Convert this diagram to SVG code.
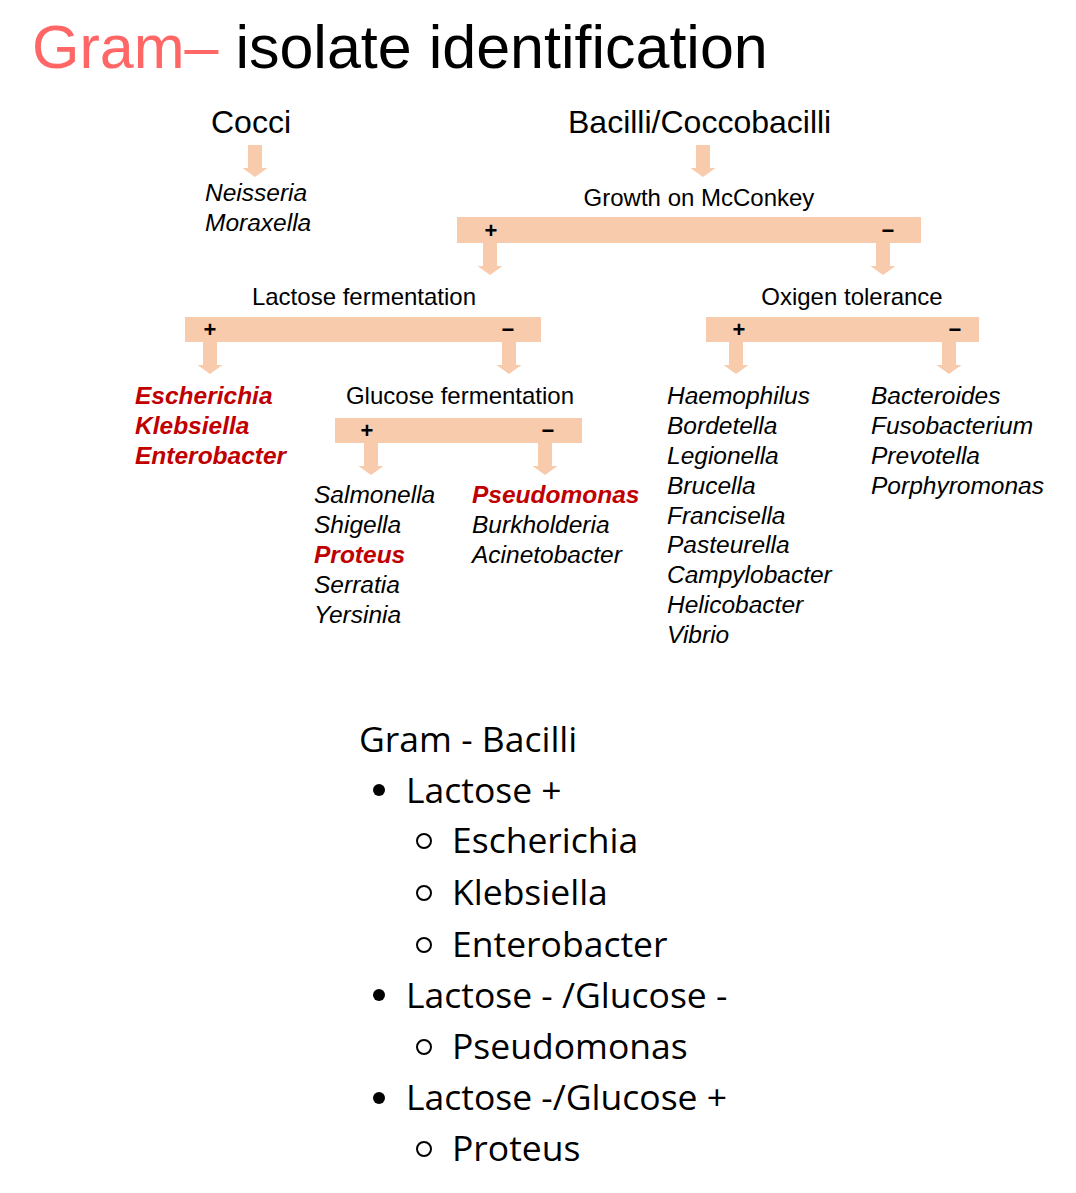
<svg xmlns="http://www.w3.org/2000/svg" width="1076" height="1193" viewBox="0 0 1076 1193">
<defs>
<style>
.a{font-family:"Liberation Sans",Arial,sans-serif;fill:#000}
.h{font-size:32px}
.l{font-size:24px}
.i{font-size:24.5px;font-style:italic}
.r{font-size:24.5px;font-style:italic;font-weight:bold;fill:#C00000}
.s{font-size:22px;font-weight:bold;text-anchor:middle}
.b{fill:#F8CBAD}
.o{font-family:"Open Sans","Noto Sans",sans-serif;font-size:35.5px;fill:#000}
</style>
<path id="arr" d="M-7,0 H7 V23 H12.5 L0,32 L-12.5,23 H-7 Z" fill="#F8CBAD"/>
</defs>
<rect width="1076" height="1193" fill="#fff"/>
<g id="title">
<text x="32" y="68" font-family="Liberation Sans,Arial,sans-serif" font-size="61"><tspan fill="#FF6666">Gram–</tspan><tspan fill="#000"> isolate identification</tspan></text>
</g>
<g id="connectors">
<use href="#arr" x="255" y="145"/>
<use href="#arr" x="703" y="145"/>
<use href="#arr" x="490" y="243"/>
<use href="#arr" x="883" y="243"/>
<use href="#arr" x="210" y="342"/>
<use href="#arr" x="509" y="342"/>
<use href="#arr" x="736" y="342"/>
<use href="#arr" x="949" y="342"/>
<use href="#arr" x="371" y="443"/>
<use href="#arr" x="545" y="443"/>
</g>
<g id="cocci">
<text class="a h" x="211" y="133">Cocci</text>
</g>
<g id="cocci-list">
<text class="a i" x="205" y="201">Neisseria</text>
<text class="a i" x="205" y="231">Moraxella</text>
</g>
<g id="bacilli">
<text class="a h" x="568" y="133">Bacilli/Coccobacilli</text>
</g>
<g id="mcconkey">
<text class="a l" x="699" y="206" text-anchor="middle">Growth on McConkey</text>
<rect class="b" x="457" y="217" width="464" height="26"/>
<text class="a s" x="491" y="238">+</text>
<text class="a s" x="888" y="238">−</text>
</g>
<g id="lactose">
<text class="a l" x="364" y="305" text-anchor="middle">Lactose fermentation</text>
<rect class="b" x="185" y="317" width="356" height="25"/>
<text class="a s" x="210" y="337">+</text>
<text class="a s" x="508" y="337">−</text>
</g>
<g id="oxygen">
<text class="a l" x="852" y="305" text-anchor="middle">Oxigen tolerance</text>
<rect class="b" x="706" y="317" width="273" height="25"/>
<text class="a s" x="739" y="337">+</text>
<text class="a s" x="955" y="337">−</text>
</g>
<g id="lactose-pos">
<text class="a r" x="135" y="404">Escherichia</text>
<text class="a r" x="135" y="434">Klebsiella</text>
<text class="a r" x="135" y="464">Enterobacter</text>
</g>
<g id="glucose">
<text class="a l" x="460" y="404" text-anchor="middle">Glucose fermentation</text>
<rect class="b" x="335" y="418" width="247" height="25"/>
<text class="a s" x="367" y="438">+</text>
<text class="a s" x="548" y="438">−</text>
</g>
<g id="glucose-pos">
<text class="a i" x="314" y="503">Salmonella</text>
<text class="a i" x="314" y="533">Shigella</text>
<text class="a r" x="314" y="563">Proteus</text>
<text class="a i" x="314" y="593">Serratia</text>
<text class="a i" x="314" y="623">Yersinia</text>
</g>
<g id="glucose-neg">
<text class="a r" x="472" y="503">Pseudomonas</text>
<text class="a i" x="472" y="533">Burkholderia</text>
<text class="a i" x="472" y="563">Acinetobacter</text>
</g>
<g id="oxygen-pos">
<text class="a i" x="667" y="404">Haemophilus</text>
<text class="a i" x="667" y="434">Bordetella</text>
<text class="a i" x="667" y="464">Legionella</text>
<text class="a i" x="667" y="494">Brucella</text>
<text class="a i" x="667" y="524">Francisella</text>
<text class="a i" x="667" y="553">Pasteurella</text>
<text class="a i" x="667" y="583">Campylobacter</text>
<text class="a i" x="667" y="613">Helicobacter</text>
<text class="a i" x="667" y="643">Vibrio</text>
</g>
<g id="oxygen-neg">
<text class="a i" x="871" y="404">Bacteroides</text>
<text class="a i" x="871" y="434">Fusobacterium</text>
<text class="a i" x="871" y="464">Prevotella</text>
<text class="a i" x="871" y="494">Porphyromonas</text>
</g>
<g id="summary">
<text class="o" x="359" y="752">Gram - Bacilli</text>
<circle cx="379" cy="790" r="6" fill="#000"/>
<text class="o" x="406" y="803">Lactose +</text>
<circle cx="424" cy="841" r="7" fill="none" stroke="#000" stroke-width="2"/>
<text class="o" x="452" y="853">Escherichia</text>
<circle cx="424" cy="893" r="7" fill="none" stroke="#000" stroke-width="2"/>
<text class="o" x="452" y="905">Klebsiella</text>
<circle cx="424" cy="945" r="7" fill="none" stroke="#000" stroke-width="2"/>
<text class="o" x="452" y="957">Enterobacter</text>
<circle cx="379" cy="995" r="6" fill="#000"/>
<text class="o" x="406" y="1008">Lactose - /Glucose -</text>
<circle cx="424" cy="1047" r="7" fill="none" stroke="#000" stroke-width="2"/>
<text class="o" x="452" y="1059">Pseudomonas</text>
<circle cx="379" cy="1098" r="6" fill="#000"/>
<text class="o" x="406" y="1110">Lactose -/Glucose +</text>
<circle cx="424" cy="1149" r="7" fill="none" stroke="#000" stroke-width="2"/>
<text class="o" x="452" y="1161">Proteus</text>
</g>
</svg>
